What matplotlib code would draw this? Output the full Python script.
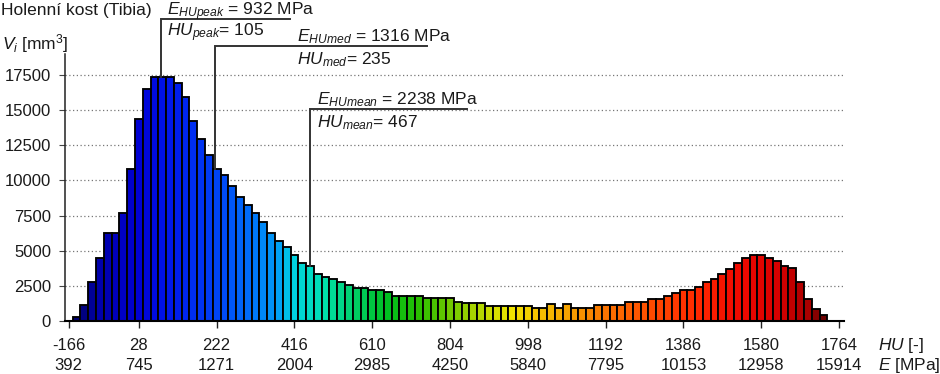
import matplotlib
matplotlib.use("Agg")
import matplotlib.pyplot as plt
from matplotlib.colors import LinearSegmentedColormap

# ---------------- data ----------------
volumes = [265, 1143, 2758, 4490, 6295, 6295, 7672, 10829, 14343, 16503,
           17358, 17358, 17358, 16954, 15957, 14200, 12966, 11779, 10829, 10402,
           9642, 8859, 8265, 7672, 7078, 6295, 5725, 5298, 4720, 4150,
           3900, 3380, 3125, 2963, 2800, 2546, 2361, 2361, 2199, 2199,
           2037, 1782, 1782, 1782, 1782, 1620, 1620, 1620, 1620, 1342,
           1273, 1273, 1273, 1084, 1084, 1084, 1084, 1084, 1084, 895,
           895, 1226, 895, 1226, 895, 895, 895, 1150, 1150, 1150,
           1150, 1335, 1335, 1335, 1570, 1570, 1795, 1970, 2205, 2205,
           2430, 2780, 2970, 3350, 3725, 4100, 4455, 4690, 4690, 4490,
           4275, 3945, 3750, 2780, 1580, 830, 440]

hu_labels = ["-166", "28", "222", "416", "610", "804", "998", "1192", "1386", "1580", "1764"]
e_labels = ["392", "745", "1271", "2004", "2985", "4250", "5840", "7795", "10153", "12958", "15914"]
y_ticks = [0, 2500, 5000, 7500, 10000, 12500, 15000, 17500]

stat_names = ["peak", "med", "mean"]
stat_hu = [105, 235, 467]
stat_e = [932, 1316, 2238]

title = "Holenní kost (Tibia)"

# ---------------- style / layout ----------------
W, H = 940, 374
plt.rcParams["font.family"] = ["Liberation Sans", "DejaVu Sans"]
plt.rcParams["mathtext.fontset"] = "custom"
plt.rcParams["mathtext.rm"] = "Liberation Sans"
plt.rcParams["mathtext.it"] = "Liberation Sans:italic"
plt.rcParams["mathtext.bf"] = "Liberation Sans:bold"

cmap = LinearSegmentedColormap.from_list("hist", [
    (0.00, (0.00, 0.00, 0.45)),
    (0.03, (0.00, 0.00, 0.67)),
    (0.08, (0.00, 0.00, 0.82)),
    (0.12, (0.00, 0.08, 0.92)),
    (0.19, (0.00, 0.27, 0.96)),
    (0.23, (0.00, 0.43, 0.98)),
    (0.27, (0.00, 0.63, 0.96)),
    (0.29, (0.00, 0.82, 0.88)),
    (0.33, (0.00, 0.88, 0.69)),
    (0.375, (0.00, 0.80, 0.39)),
    (0.417, (0.00, 0.75, 0.12)),
    (0.458, (0.16, 0.75, 0.00)),
    (0.50, (0.43, 0.78, 0.00)),
    (0.552, (0.78, 0.86, 0.00)),
    (0.583, (0.94, 0.90, 0.00)),
    (0.615, (0.96, 0.78, 0.00)),
    (0.656, (0.96, 0.65, 0.00)),
    (0.698, (0.98, 0.49, 0.00)),
    (0.74, (0.99, 0.37, 0.00)),
    (0.79, (1.00, 0.25, 0.00)),
    (0.833, (1.00, 0.16, 0.00)),
    (0.885, (0.94, 0.04, 0.00)),
    (0.9375, (0.86, 0.00, 0.00)),
    (0.98, (0.67, 0.00, 0.00)),
    (1.00, (0.43, 0.00, 0.00)),
])

fig = plt.figure(figsize=(W / 100, H / 100), dpi=100)
# axes: y-axis at px 65, right end px 844, zero at px 321, top at px 54
ax = fig.add_axes([65 / W, (H - 321) / H, (844 - 65) / W, (321 - 54) / H])

n = len(volumes)
idx = list(range(n))
colors = [cmap(i / (n - 1)) for i in idx]
ax.bar(idx, volumes, width=1.0, color=colors, edgecolor="black", linewidth=1.35, zorder=3)

ax.set_xlim(-1.49, 98.64)
ax.set_ylim(0, 19000)

# gridlines
for yv in y_ticks[1:]:
    ax.axhline(yv, color="#777777", linestyle=(0, (1, 2)), linewidth=0.9, zorder=1)

# spines
for s in ["top", "right"]:
    ax.spines[s].set_visible(False)
ax.spines["left"].set_color("#222222")
ax.spines["left"].set_linewidth(1.1)
ax.spines["bottom"].set_color("black")
ax.spines["bottom"].set_linewidth(1.5)
ax.spines["bottom"].set_zorder(4)

ax.set_yticks(y_ticks)
ax.set_yticklabels([str(v) for v in y_ticks], fontsize=12, color="#1a1a1a")
ax.tick_params(axis="y", length=4, width=0.8, color="#444444", pad=6)

tick_pos = [-1] + [8 + 10 * k for k in range(len(hu_labels) - 1)]
ax.set_xticks(tick_pos)
ax.set_xticklabels([])
ax.tick_params(axis="x", length=5, width=1.0, color="#222222")

txt_color = "#1a1a1a"
# two-line x tick labels (HU over E)
for p, hu, e in zip(tick_pos, hu_labels, e_labels):
    xf = ax.transData.transform((p, 0))[0] / W
    fig.text(xf, 1 - 350 / H, hu, ha="center", va="baseline", fontsize=12, color=txt_color)
    fig.text(xf, 1 - 370 / H, e, ha="center", va="baseline", fontsize=12, color=txt_color)

fig.text(878 / W, 1 - 350 / H, r"$HU$ [-]", ha="left", va="baseline", fontsize=12.5, color=txt_color)
fig.text(878 / W, 1 - 370 / H, r"$E$ [MPa]", ha="left", va="baseline", fontsize=12.5, color=txt_color)

fig.text(1 / W, 1 - 15 / H, title, ha="left", va="baseline", fontsize=12.5, color=txt_color)
fig.text(2 / W, 1 - 49 / H, r"$V_i$ [mm$^3$]", ha="left", va="baseline", fontsize=12.5, color=txt_color)

# statistic annotations
line_x = [10.85, 17.8, 30.0]
line_y = [21456, 19552, 15100]
line_x2 = [27.43, 45.0, 50.15]
text_x = [11.57, 28.33, 30.87]
e_base = [15, 41.7, 103.8]
hu_base = [36.7, 64.5, 127]
for name, hu, e, lx, ly, lx2, tx, eb, hb in zip(stat_names, stat_hu, stat_e, line_x, line_y,
                                                 line_x2, text_x, e_base, hu_base):
    top_bar = volumes[int(round(lx))]
    ax.plot([lx, lx, lx2], [top_bar, ly, ly], color="#333333", linewidth=1.4,
            clip_on=False, zorder=5, solid_joinstyle="miter")
    xf = ax.transData.transform((tx, 0))[0] / W
    fig.text(xf, 1 - eb / H, r"$E_{HU%s}$ = %d MPa" % (name, e), ha="left",
             va="baseline", fontsize=12.5, color=txt_color)
    fig.text(xf, 1 - hb / H, r"$HU_{%s}$= %d" % (name, hu), ha="left",
             va="baseline", fontsize=12.5, color=txt_color)

fig.savefig("out.png", dpi=100)
